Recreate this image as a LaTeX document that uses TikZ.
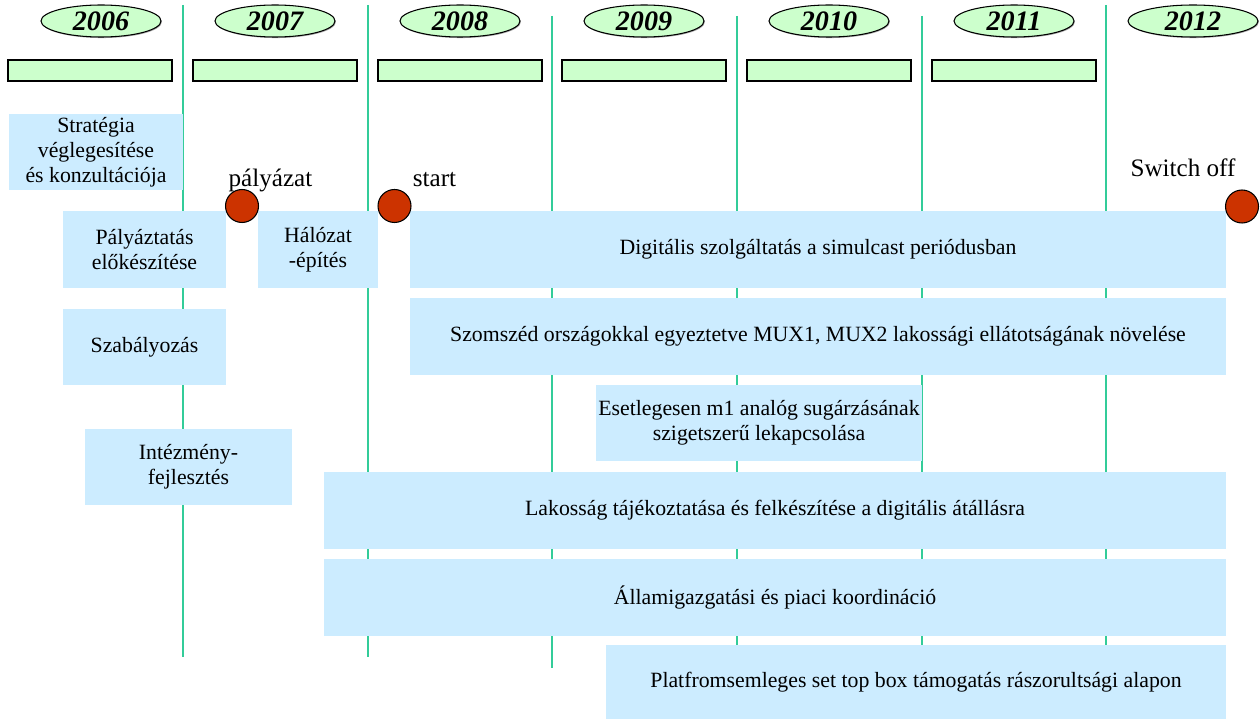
\documentclass[tikz,border=0pt]{standalone}
\usepackage{fontspec}
\setmainfont{Liberation Serif}
\usepackage{tikz}
\usetikzlibrary{shapes.geometric,shadows}
\definecolor{yrgreen}{HTML}{CCFFCC}
\definecolor{taskblue}{HTML}{CCECFF}
\definecolor{gridteal}{HTML}{33CC99}
\definecolor{msred}{HTML}{CC3300}
\tikzset{
	yrlabel/.style={ellipse, draw=black, line width=0.6pt, fill=yrgreen, minimum height=0.64cm, inner sep=0pt,
		font=\fontsize{16}{18}\selectfont\bfseries\itshape,
		drop shadow={shadow xshift=0.5pt, shadow yshift=-0.6pt, opacity=0.7}},
	yrbar/.style={draw=black, line width=0.6pt, fill=yrgreen,
		drop shadow={shadow xshift=0.5pt, shadow yshift=-0.6pt, opacity=0.7}},
	yrline/.style={gridteal, line width=0.9pt},
	task/.style={fill=taskblue, inner sep=0pt, align=center, minimum height=1.54cm, font=\fontsize{12.4}{14.2}\selectfont},
	milestone/.style={circle, draw=black, line width=0.6pt, fill=msred, minimum size=0.66cm, inner sep=0pt},
	mslabel/.style={anchor=base, inner sep=0pt, font=\fontsize{14.3}{16}\selectfont}
}

\begin{document}
\begin{tikzpicture}[x=0.02cm, y=-0.02cm]
			%%%%% START %%%%%
			\useasboundingbox (0,0) rectangle (1260,719);
			
			% year separators
			\foreach \lx/\ya/\yb in {183/5/657, 368/5/657, 552/16/668, 737/16/645, 922/16/645, 1106/5/645}
				\draw[yrline] (\lx,\ya) -- (\lx,\yb);
			
			% years
			\foreach \yr/\cx/\w in {2006/101/2.4, 2007/275/2.4, 2008/460/2.4, 2009/644/2.4, 2010/829/2.4, 2011/1014/2.4, 2012/1193/2.6}
				\node[yrlabel, minimum width=\w cm] (y\yr) at (\cx,21) {\yr};
			\foreach \gx in {8, 193, 378, 562, 747, 932}
				\draw[yrbar] (\gx,60) rectangle ++(164,21);
			
			% tasks
			\node[task, minimum width=3.48cm, minimum height=1.52cm] (strat) at (96,152) {Stratégia\\véglegesítése\\és konzultációja};
			\node[task, minimum width=3.26cm] (palyaztatas) at (144.5,249.5) {Pályáztatás\\előkészítése};
			\node[task, minimum width=2.4cm] (halozat) at (318,249.5) {Hálózat\\-építés};
			\node[task, minimum width=16.32cm] (digit) at (818,249.5) {Digitális szolgáltatás a simulcast periódusban};
			\node[task, minimum width=16.32cm] (szomszed) at (818,336.5) {Szomszéd országokkal egyeztetve MUX1, MUX2 lakossági ellátotságának növelése};
			\node[task, minimum width=3.26cm, minimum height=1.52cm] (szabaly) at (144.5,347) {Szabályozás};
			\node[task, minimum width=6.52cm, minimum height=1.52cm] (esetleg) at (759,423) {Esetlegesen m1 analóg sugárzásának\\szigetszerű lekapcsolása};
			\node[task, minimum width=4.14cm, minimum height=1.52cm] (intezmeny) at (188.5,467) {Intézmény-\\fejlesztés};
			\node[task, minimum width=18.04cm] (lakossag) at (775,510.5) {Lakosság tájékoztatása és felkészítése a digitális átállásra};
			\node[task, minimum width=18.04cm] (allam) at (775,597.5) {Államigazgatási és piaci koordináció};
			\node[task, minimum width=12.4cm, minimum height=1.48cm] (platform) at (916,682) {Platfromsemleges set top box támogatás rászorultsági alapon};
			
			% milestones
			\node[milestone] (ms1) at (242,206) {};
			\node[milestone] (ms2) at (394.5,206) {};
			\node[milestone] (ms3) at (1242,206.5) {};
			\node[mslabel] (ms1lbl) at (270.5,187) {pályázat};
			\node[mslabel] (ms2lbl) at (434.5,187) {start};
			\node[mslabel] (ms3lbl) at (1183,177) {Switch off};
			%%%%% END %%%%%
\end{tikzpicture}
\end{document}
